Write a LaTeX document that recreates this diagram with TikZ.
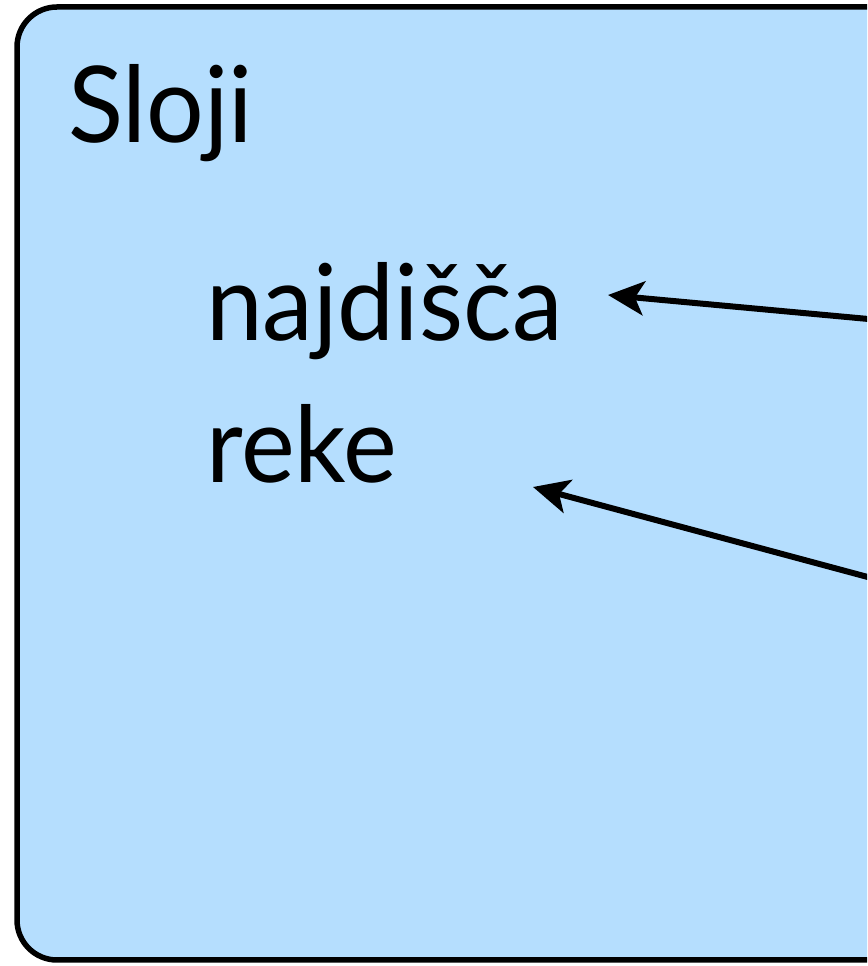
\documentclass[tikz,border=0pt]{standalone}
\usepackage{fontspec}
\setmainfont{Lato}[FakeStretch=0.96]
\usetikzlibrary{arrows.meta}
\definecolor{boxblue}{RGB}{181,222,254}
\tikzset{
  txt/.style={inner sep=0pt, anchor=base west, font=\fontsize{106}{120}\selectfont},
  pointer/.style={line width=6pt, -{Stealth[length=36pt, width=34pt, inset=9pt]}}
}
\begin{document}
\begin{tikzpicture}[x=1pt,y=1pt]
\useasboundingbox (0,0) rectangle (867,966);
\clip (0,0) rectangle (867,966);
\draw[line width=5.5pt, fill=boxblue, rounded corners=40pt] (17,6) rectangle (950,959);
\node[txt] (sloji) at (68,823) {Sloji};
\node[txt] (naj) at (206,625) {najdišča};
\node[txt] (reke) at (206,483) {reke};
\coordinate (s1) at (890,645);
\coordinate (s2) at (890,383);
\draw[pointer] (s1) -- ([xshift=402pt,yshift=46pt]naj.base west);
\draw[pointer] (s2) -- ([xshift=327pt,yshift=-4pt]reke.base west);
\end{tikzpicture}
\end{document}
